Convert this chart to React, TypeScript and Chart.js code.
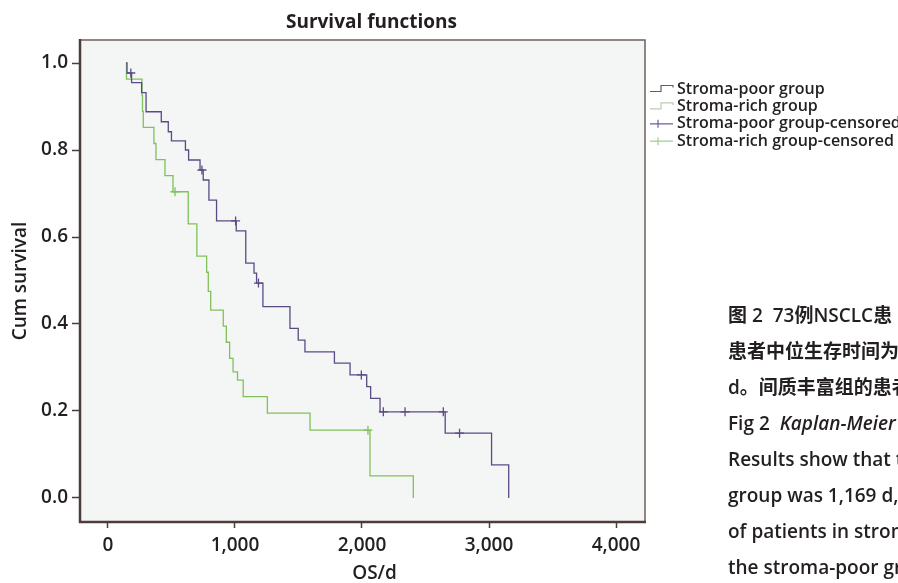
import { useEffect, useRef } from 'react';
import { Chart, registerables } from 'chart.js';

Chart.register(...registerables);

// ---------- data ----------
const poorTimes = [142, 150, 186, 265, 300, 420, 475, 500, 610, 635, 725, 750, 795, 855, 1010, 1085, 1150, 1170, 1220, 1433, 1498, 1551, 1783, 1906, 2037, 2068, 2142, 2655, 3020, 3155];
const poorSurvival = [1.0, 0.977, 0.955, 0.932, 0.888, 0.865, 0.842, 0.821, 0.8, 0.777, 0.754, 0.731, 0.685, 0.637, 0.614, 0.54, 0.517, 0.494, 0.44, 0.39, 0.363, 0.336, 0.31, 0.283, 0.256, 0.229, 0.198, 0.149, 0.076, 0.0];
const poorCensorTimes = [180, 740, 1005, 1185, 1995, 2168, 2339, 2640, 2768];
const poorCensorSurvival = [0.977, 0.754, 0.637, 0.494, 0.283, 0.198, 0.198, 0.198, 0.149];

const richTimes = [142, 146, 268, 272, 278, 362, 378, 449, 512, 632, 700, 777, 790, 809, 908, 932, 958, 985, 1020, 1065, 1255, 1591, 2063, 2404];
const richSurvival = [1.0, 0.963, 0.926, 0.889, 0.852, 0.815, 0.778, 0.741, 0.704, 0.63, 0.556, 0.519, 0.475, 0.432, 0.395, 0.358, 0.321, 0.29, 0.271, 0.233, 0.195, 0.156, 0.051, 0.0];
const richCensorTimes = [528, 2047];
const richCensorSurvival = [0.704, 0.156];

const xTickValues = [0, 1000, 2000, 3000, 4000];
const yTickValues = [0, 0.2, 0.4, 0.6, 0.8, 1.0];

const chartTitle = 'Survival functions';
const xAxisTitle = 'OS/d';
const yAxisTitle = 'Cum survival';
const seriesNames = ['Stroma-poor group', 'Stroma-rich group', 'Stroma-poor group-censored', 'Stroma-rich group-censored'];

const captionLines = [
  '图 2  73例NSCLC患',
  '患者中位生存时间为',
  'd。间质丰富组的患者',
  'Fig 2  |Kaplan-Meier',
  'Results show that the',
  'group was 1,169 d,',
  'of patients in stroma',
  'the stroma-poor group',
];

// ---------- styles ----------
const W = 898;
const H = 583;
const PURPLE = '#5b4b85';
const GREEN = '#80c15b';
const TEXT = '#231f20';
const AXIS = '#4b3e3a';
const FONT = "'Open Sans', 'Noto Sans CJK SC', sans-serif";

const toPoints = (xs: number[], ys: number[]) => xs.map((x, i) => ({ x, y: ys[i] }));

const plotBackground = {
  id: 'plotBackground',
  beforeDatasetsDraw(chart: any) {
    const { ctx, chartArea: a } = chart;
    ctx.save();
    ctx.fillStyle = '#f4f5f5';
    ctx.fillRect(a.left, a.top, a.right - a.left, a.bottom - a.top);
    ctx.restore();
  },
};

const plotFrame = {
  id: 'plotFrame',
  afterDatasetsDraw(chart: any) {
    const { ctx, chartArea: a } = chart;
    ctx.save();
    ctx.strokeStyle = '#6d605b';
    ctx.lineWidth = 1.5;
    ctx.beginPath();
    ctx.moveTo(a.left, a.top);
    ctx.lineTo(a.right, a.top);
    ctx.lineTo(a.right, a.bottom);
    ctx.stroke();
    ctx.strokeStyle = AXIS;
    ctx.lineWidth = 2.5;
    ctx.beginPath();
    ctx.moveTo(a.left, a.top - 1);
    ctx.lineTo(a.left, a.bottom);
    ctx.lineTo(a.right + 1, a.bottom);
    ctx.stroke();
    ctx.restore();
  },
};

const titles = {
  id: 'titles',
  afterDraw(chart: any) {
    const { ctx, chartArea: a } = chart;
    ctx.save();
    ctx.fillStyle = TEXT;
    ctx.textAlign = 'center';
    ctx.textBaseline = 'middle';
    ctx.font = `bold 19px ${FONT}`;
    ctx.fillText(chartTitle, (a.left + a.right) / 2 + 9, 23);
    ctx.font = `600 19px ${FONT}`;
    ctx.fillText(xAxisTitle, (a.left + a.right) / 2 + 12, a.bottom + 52);
    ctx.restore();
  },
};

const sideLegend = {
  id: 'sideLegend',
  afterDraw(chart: any) {
    const { ctx, chartArea: a } = chart;
    const x0 = a.right + 5;
    const xm = a.right + 16;
    const x1 = a.right + 28;
    const colors = ['#6a5a70', '#bfcdb0', '#6a5fa0', '#9fd08a'];
    ctx.save();
    seriesNames.forEach((name, i) => {
      const y = 89 + i * 17.4;
      ctx.strokeStyle = colors[i];
      ctx.lineWidth = 1.2;
      ctx.beginPath();
      if (i < 2) {
        ctx.moveTo(x0, y + 2.5);
        ctx.lineTo(xm, y + 2.5);
        ctx.lineTo(xm, y - 3.5);
        ctx.lineTo(x1, y - 3.5);
        ctx.lineTo(x1, y - 1.5);
      } else {
        ctx.moveTo(x0, y);
        ctx.lineTo(x1, y);
        ctx.moveTo(x0 + 8, y - 4);
        ctx.lineTo(x0 + 8, y + 4);
      }
      ctx.stroke();
      ctx.fillStyle = TEXT;
      ctx.font = `600 16px ${FONT}`;
      ctx.textBaseline = 'middle';
      ctx.textAlign = 'left';
      ctx.fillText(name, a.right + 32, y);
    });
    ctx.restore();
  },
};

export default function App() {
  const canvasRef = useRef<HTMLCanvasElement | null>(null);

  useEffect(() => {
    if (!canvasRef.current) return;
    Chart.defaults.font.family = FONT;
    const chart = new Chart(canvasRef.current, {
      type: 'line',
      data: {
        datasets: [
          {
            label: seriesNames[0],
            data: toPoints(poorTimes, poorSurvival),
            stepped: 'before',
            borderColor: PURPLE,
            borderWidth: 1.3,
            pointRadius: 0,
            fill: false,
          },
          {
            label: seriesNames[1],
            data: toPoints(richTimes, richSurvival),
            stepped: 'before',
            borderColor: GREEN,
            borderWidth: 1.3,
            pointRadius: 0,
            fill: false,
          },
          {
            label: seriesNames[2],
            data: toPoints(poorCensorTimes, poorCensorSurvival),
            showLine: false,
            pointStyle: 'cross',
            pointRadius: 4.5,
            pointBorderWidth: 1.3,
            borderColor: PURPLE,
            pointBorderColor: PURPLE,
          },
          {
            label: seriesNames[3],
            data: toPoints(richCensorTimes, richCensorSurvival),
            showLine: false,
            pointStyle: 'cross',
            pointRadius: 4.5,
            pointBorderWidth: 1.3,
            borderColor: GREEN,
            pointBorderColor: GREEN,
          },
        ],
      },
      options: {
        animation: false,
        responsive: false,
        maintainAspectRatio: false,
        layout: { padding: { left: 0, right: 253, top: 40, bottom: 0 } },
        plugins: {
          legend: { display: false },
          tooltip: { enabled: false },
          title: { display: false },
        },
        scales: {
          x: {
            type: 'linear',
            min: -220,
            max: 4228,
            afterBuildTicks: (s: any) => {
              s.ticks = xTickValues.map((v) => ({ value: v }));
            },
            afterFit: (s: any) => {
              s.height = 61;
            },
            ticks: {
              color: TEXT,
              padding: 6,
              font: { size: 19, weight: '600', family: FONT },
              callback: (v: any) => Number(v).toLocaleString('en-US'),
            },
            grid: {
              display: true,
              drawOnChartArea: false,
              drawTicks: true,
              tickLength: 6,
              tickColor: AXIS,
              tickWidth: 1.5,
            },
            border: { display: false },
            title: { display: false },
          },
          y: {
            type: 'linear',
            min: -0.0552,
            max: 1.0529,
            afterBuildTicks: (s: any) => {
              s.ticks = yTickValues.map((v) => ({ value: v }));
            },
            afterFit: (s: any) => {
              s.width = 80;
            },
            ticks: {
              color: TEXT,
              padding: 4,
              font: { size: 19, weight: '600', family: FONT },
              callback: (v: any) => Number(v).toFixed(1),
            },
            grid: {
              display: true,
              drawOnChartArea: false,
              drawTicks: true,
              tickLength: 8,
              tickColor: AXIS,
              tickWidth: 1.5,
            },
            border: { display: false },
            title: {
              display: true,
              text: yAxisTitle,
              color: TEXT,
              font: { size: 19, weight: '600', lineHeight: 1.2, family: FONT },
              padding: { top: 9, bottom: 0 },
            },
          },
        },
      },
      plugins: [plotBackground, plotFrame, titles, sideLegend],
    } as any);
    return () => chart.destroy();
  }, []);

  return (
    <div style={{ position: 'absolute', left: 0, top: 0, width: W, height: H, overflow: 'hidden', background: '#fff' }}>
      <canvas ref={canvasRef} width={W} height={H} style={{ position: 'absolute', left: 0, top: 0, width: W, height: H }} />
      <div
        style={{
          position: 'absolute',
          left: 728,
          top: 297,
          width: W - 728,
          overflow: 'hidden',
          whiteSpace: 'pre',
          fontFamily: FONT,
          fontSize: 19,
          fontWeight: 600,
          lineHeight: '36px',
          color: TEXT,
        }}
      >
        {captionLines.map((line, i) => {
          const parts = line.split('|');
          return (
            <div key={i}>
              {parts[0]}
              {parts[1] ? <i>{parts[1]}</i> : null}
            </div>
          );
        })}
      </div>
    </div>
  );
}
